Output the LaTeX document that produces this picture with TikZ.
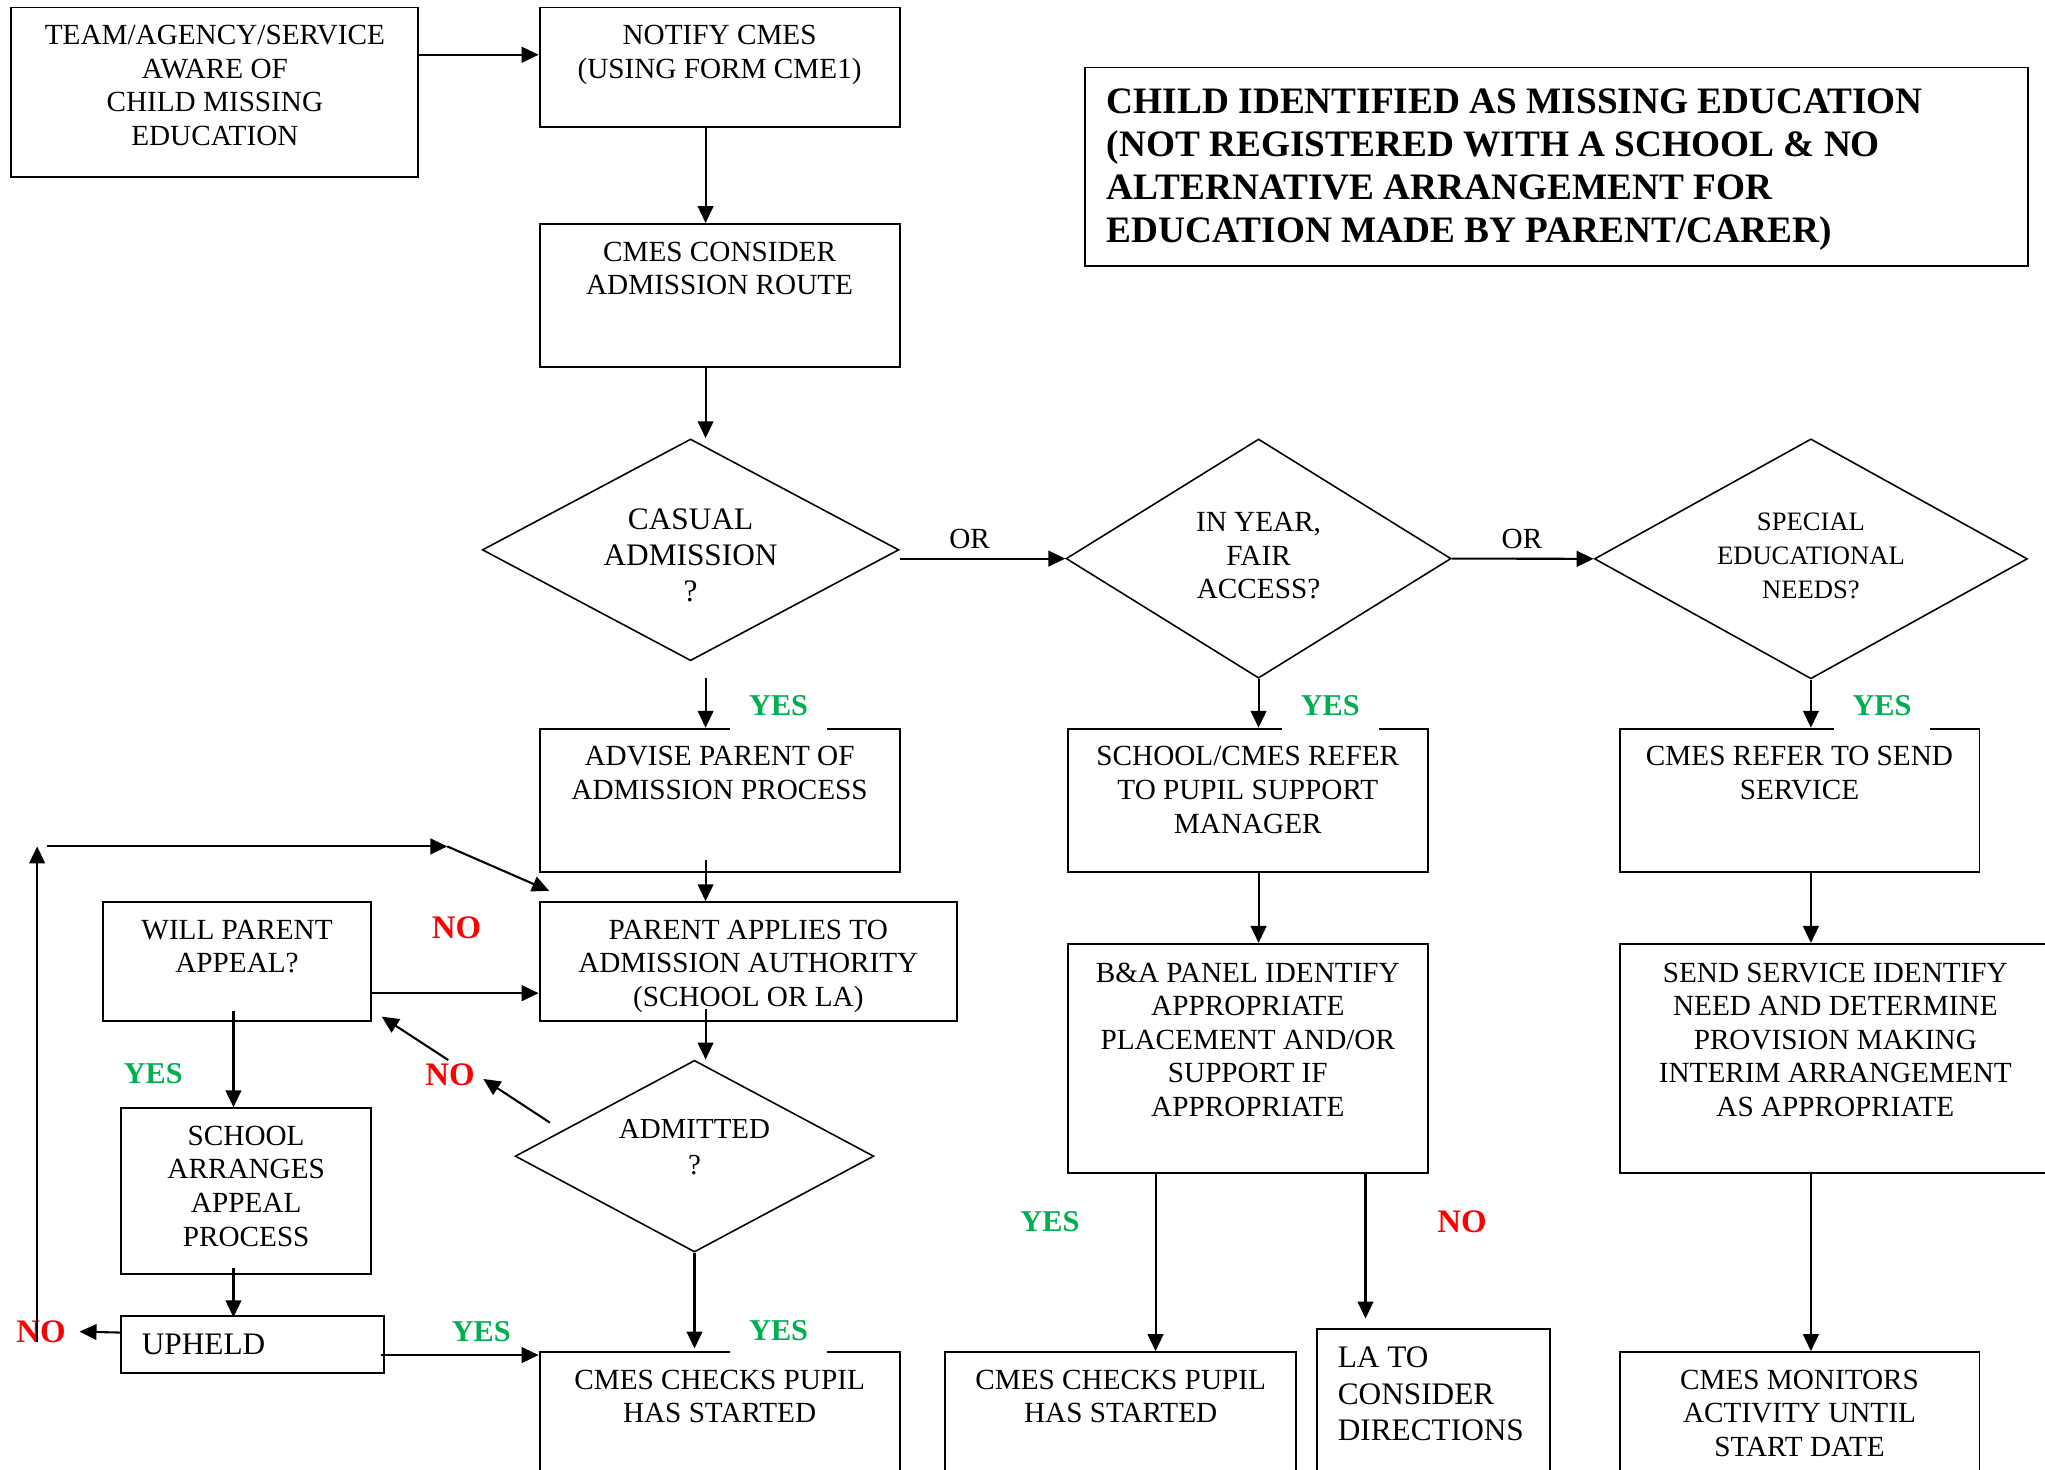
\documentclass[tikz,border=0pt]{standalone}
\usepackage{fontspec}
\setmainfont{Liberation Serif}
\usetikzlibrary{shapes.geometric,arrows.meta,calc}
\definecolor{yesgreen}{HTML}{00B050}
\definecolor{nored}{HTML}{FF0000}
\newcommand\bodyfont{\fontsize{11.2}{12.9}\selectfont}
\newcommand\bigfont{\fontsize{12}{14}\selectfont}
\newcommand\titlefont{\fontsize{14.3}{16.5}\selectfont\bfseries}
\newcommand\mkbox[7][\centering\rule{0pt}{14.2pt}]{%
  \pgfmathsetmacro\bxw{(#5-#3)/2}%
  \pgfmathsetmacro\bxh{(#6-#4)/2}%
  \node[fbox, anchor=north west] (#2) at (#3,#4) {\parbox[c][\bxh pt][t]{\bxw pt}{#1#7}};%
}
\begin{document}
\begin{tikzpicture}[x=0.5pt, y=-0.5pt,
  fbox/.style={draw, line width=0.75pt, inner sep=0pt, font=\bodyfont},
  dia/.style={draw, diamond, line width=0.6pt, inner sep=0pt, shape aspect=1},
  dtext/.style={align=center, inner sep=0pt},
  arr/.style={line width=0.8pt, -{Triangle[length=6.5pt,width=6pt]}},
  yes/.style={font=\fontsize{11.6}{13}\selectfont\bfseries, inner sep=0pt, text=yesgreen},
  yesw/.style={yes, fill=white, text height=9pt, text depth=6pt, minimum width=37pt, anchor=base},
  no/.style={font=\fontsize{12.6}{14}\selectfont\bfseries, inner sep=0pt, text=nored},
  ortext/.style={font=\bodyfont, inner sep=0pt}]
\fill[white] (0,0) rectangle (1568,1127);
\useasboundingbox (0,0) rectangle (1568,1127);

% boxes
\mkbox{team}{8}{5}{320}{135}{TEAM/AGENCY/SERVICE\\AWARE OF\\CHILD MISSING\\EDUCATION}
\mkbox{notify}{413}{5}{689}{97}{NOTIFY CMES\\(USING FORM CME1)}
\mkbox{consider}{413}{171}{689}{281}{CMES CONSIDER\\ADMISSION ROUTE}
\mkbox[\titlefont\raggedright\leftskip=8.5pt\relax\rule{0pt}{17.7pt}]{title}{831}{51}{1554}{203}{CHILD IDENTIFIED AS MISSING EDUCATION\\(NOT REGISTERED WITH A SCHOOL \& NO\\ALTERNATIVE ARRANGEMENT FOR\\EDUCATION MADE BY PARENT/CARER)}
\mkbox{advise}{413}{558}{689}{668}{ADVISE PARENT OF\\ADMISSION PROCESS}
\mkbox{refer}{818}{558}{1094}{668}{SCHOOL/CMES REFER\\TO PUPIL SUPPORT\\MANAGER}
\mkbox{sendref}{1241}{558}{1517}{668}{CMES REFER TO SEND\\SERVICE}
\mkbox{papply}{413}{691}{733}{782}{PARENT APPLIES TO\\ADMISSION AUTHORITY\\(SCHOOL OR LA)}
\mkbox{will}{78}{691}{284}{782}{WILL PARENT\\APPEAL?}
\mkbox{arranges}{92}{849}{284}{976}{SCHOOL\\ARRANGES\\APPEAL\\PROCESS}
\mkbox[\bigfont\raggedright\leftskip=8pt\relax\rule{0pt}{15pt}]{upheld}{92}{1008}{294}{1052}{UPHELD}
\mkbox{checks1}{413}{1036}{689}{1140}{CMES CHECKS PUPIL\\HAS STARTED}
\mkbox[\centering\rule{0pt}{14.6pt}]{panel}{818}{723}{1094}{899}{B\&A PANEL IDENTIFY\\APPROPRIATE\\PLACEMENT AND/OR\\SUPPORT IF\\APPROPRIATE}
\mkbox[\centering\rule{0pt}{14.6pt}]{sendsvc}{1241}{723}{1572}{899}{SEND SERVICE IDENTIFY\\NEED AND DETERMINE\\PROVISION MAKING\\INTERIM ARRANGEMENT\\AS APPROPRIATE}
\mkbox{checks2}{724}{1036}{993}{1140}{CMES CHECKS PUPIL\\HAS STARTED}
\mkbox[\bigfont\raggedright\leftskip=8pt\relax\rule{0pt}{15pt}]{lato}{1009}{1018}{1188}{1140}{LA TO\\CONSIDER\\DIRECTIONS}
\mkbox{monitors}{1241}{1036}{1517}{1140}{CMES MONITORS\\ACTIVITY UNTIL\\START DATE}

% diamonds
\node[dia, minimum width=159.7pt, minimum height=85pt] (casual) at (529.5,421.6) {};
\node[dia, minimum width=147.6pt, minimum height=91.7pt] (inyear) at (965,428.3) {};
\node[dia, minimum width=166pt, minimum height=92pt] (special) at (1388.5,428.5) {};
\node[dia, minimum width=137.5pt, minimum height=73.5pt] (admitted) at (532.5,886.5) {};
\node[dtext, font=\fontsize{12}{13.75}\selectfont] (casual-t) at (529.5,426) {CASUAL\\ADMISSION\\?};
\node[dtext, font=\fontsize{11.2}{13}\selectfont] (inyear-t) at (965,426) {IN YEAR,\\FAIR\\ACCESS?};
\node[dtext, font=\fontsize{10.2}{13}\selectfont] (special-t) at (1388.5,426) {SPECIAL\\EDUCATIONAL\\NEEDS?};
\node[dtext, font=\fontsize{11.1}{13.5}\selectfont] (admitted-t) at (532.5,879.5) {ADMITTED\\?};

% helper coordinates
\coordinate (colA) at (541,0);
\coordinate (colW) at (179,0);
\coordinate (colP) at (886,0);
\coordinate (colQ) at (1047,0);
\coordinate (colC) at (1388.5,0);
\coordinate (admNO1) at (421.7,860.8);
\coordinate (admNO2) at (370.6,827.3);
\coordinate (admNO3) at (343.7,812.8);
\coordinate (admNO4) at (292.7,779.5);
\coordinate (noLtip) at (61,1021);
\coordinate (loopA) at (28.5,1029);
\coordinate (loopB) at (28.5,649);
\coordinate (loopC) at (36,649);
\coordinate (loopD) at (343,649);

% connectors
\draw[arr] ($(team.north east)+(0,37)$) -- ($(notify.north west)+(0,37)$);
\draw[arr] (notify.south -| colA) -- (consider.north -| colA);
\draw[arr] (consider.south -| colA) -- (casual.north -| colA);
\draw[arr] (casual.east |- inyear.west) -- (inyear.west);
\draw[arr] (inyear.east) -- (special.west);
\draw[arr] ($(casual.south -| colA)+(0,13)$) -- (advise.north -| colA);
\draw[arr] (inyear.south) -- (inyear.south |- refer.north);
\draw[arr] (special.south) -- (special.south |- sendref.north);
\draw[arr] ($(advise.south -| colA)+(0,-10)$) -- (papply.north -| colA);
\draw[arr] (refer.south -| inyear.south) -- (panel.north -| inyear.south);
\draw[arr] (sendref.south -| colC) -- (sendsvc.north -| colC);
\draw[arr] (panel.south -| colP) -- (checks2.north -| colP);
\draw[arr] (panel.south -| colQ) -- ($(lato.north -| colQ)+(0,-7)$);
\draw[arr] (sendsvc.south -| colC) -- (monitors.north -| colC);
\draw[arr] ($(papply.south -| colA)+(0,-10)$) -- (admitted.north -| colA);
\draw[arr] (admitted.south) -- ($(admitted.south |- checks1.north)+(0,-2)$);
\draw[arr] (admNO1) -- (admNO2);
\draw[arr] (admNO3) -- (admNO4);
\draw[arr] ($(will.south east)+(0,-22)$) -- ($(papply.south west)+(0,-22)$);
\draw[arr] ($(will.south -| colW)+(0,-8)$) -- (arranges.north -| colW);
\draw[arr] ($(arranges.south -| colW)+(0,-5)$) -- ($(upheld.north -| colW)+(0,2)$);
\draw[arr] ($(upheld.north east)+(-3,31)$) -- ($(checks1.north west)+(0,3)$);

% labels
\node[ortext] (or1) at (743.5,413) {OR};
\node[ortext] (or2) at (1167,413) {OR};
\node[yesw] (yesA) at (597,548.3) {YES};
\node[yesw] (yesB) at (1020,548.3) {YES};
\node[yesw] (yesC) at (1443,548.3) {YES};
\node[yesw] (yesD) at (597,1027.8) {YES};
\node[yes] (yesW) at (117.5,823.5) {YES};
\node[yes] (yesU) at (369,1021) {YES};
\node[yes] (yesP) at (805,937) {YES};
\node[no] (noP) at (1121,937) {NO};
\node[no] (noW) at (350,711.5) {NO};
\node[no] (noA) at (345,824) {NO};
\node[no] (noL) at (31.5,1021) {NO};

% left loop
\draw[arr] ($(upheld.west)+(0,-9)$) -- (noLtip);
\draw[arr] (loopA) -- (loopB);
\draw[arr] (loopC) -- (loopD);
\draw[arr] (loopD) -- ($(papply.north west)+(8,-8)$);
\end{tikzpicture}
\end{document}
